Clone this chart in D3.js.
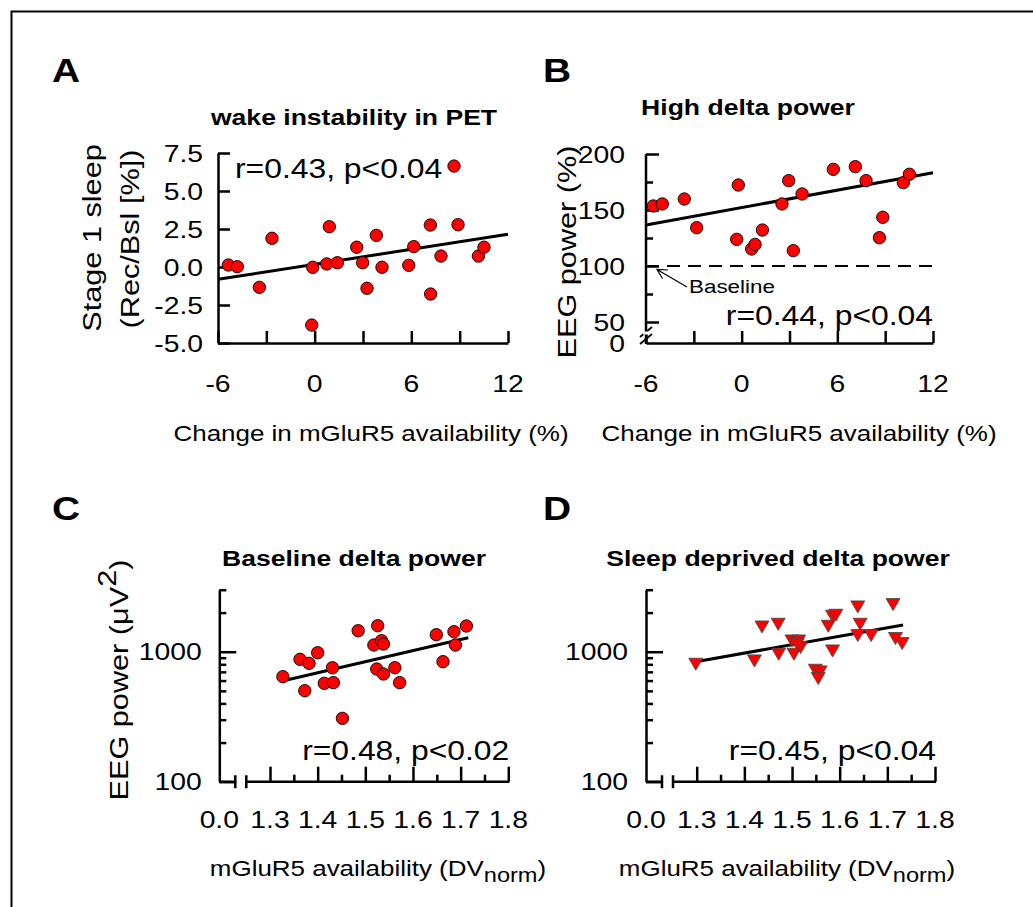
<!DOCTYPE html>
<html><head><meta charset="utf-8">
<script src="https://cdn.jsdelivr.net/npm/d3@7"></script>
<style>
body{margin:0;background:#fff}
svg{display:block}
text{font-family:"Liberation Sans",Arial,sans-serif;fill:#000}
</style>
</head><body>
<svg id="c" width="1033" height="907"></svg>
<script>
// ---------- DATA ----------
// Panel A: wake instability in PET
const aX = [-5.36,-4.80,-3.43,-2.65,-0.18,-0.12,0.75,0.91,1.41,2.61,2.98,3.25,3.83,4.18,5.84,6.15,7.18,7.20,7.84,8.65,8.90,10.16,10.51];
const aY = [0.13,0.02,-1.34,1.89,-3.82,-0.02,0.20,2.65,0.28,1.30,0.28,-1.40,2.08,-0.02,0.11,1.34,2.76,-1.78,0.72,6.64,2.78,0.72,1.30];
const aFitX = [-6, 12];
const aFitY = [-0.81, 2.15];
// Panel B: high delta power
const bX = [-5.54,-4.98,-3.60,-2.82,-0.21,-0.31,0.63,0.84,1.30,2.53,2.95,3.24,3.79,5.75,7.13,7.80,8.85,8.64,10.14,10.52];
const bY = [153.6,155.4,159.8,134.2,172.3,123.8,115.2,119.3,132.1,155.4,176.2,113.7,164.3,186.3,188.7,176.2,143.5,125.3,174.4,181.9];
const bFitX = [-6, 12];
const bFitY = [136.6, 183.3];
// Panel C: baseline delta power
const cX = [1.327,1.363,1.382,1.373,1.400,1.414,1.433,1.431,1.452,1.485,1.526,1.518,1.534,1.538,1.524,1.538,1.562,1.572,1.649,1.663,1.686,1.689,1.712];
const cY = [642,874,814,501,982,571,578,753,307,1450,1585,1126,1215,1146,736,674,753,578,1352,838,1425,1126,1577];
const cFitX = [1.335, 1.716];
const cFitY = [606, 1281];
// Panel D: sleep deprived delta power
const dX = [1.298,1.421,1.437,1.471,1.472,1.504,1.500,1.514,1.518,1.511,1.549,1.559,1.555,1.585,1.576,1.585,1.592,1.638,1.643,1.638,1.666,1.712,1.717,1.731];
const dY = [804,853,1556,1633,960,960,1215,1215,1080,1146,723,702,624,1018,1577,1882,1915,2220,1633,1337,1337,2315,1268,1160];
const dFitX = [1.298, 1.733];
const dFitY = [838, 1604];

// Ticks
const abXTicks = [-6,-3,0,3,6,9,12];
const abXLabels = [-6,0,6,12];
const aYTicks = [-5,-2.5,0,2.5,5,7.5];
const bYMajor = [50,100,150,200];
const bYMinor = [75,125,175];
const cdYMajor = [100,1000];
const cdYMinor = [200,300,400,500,600,700,800,900,2000,3000];
const cdXMajor = [1.3,1.4,1.5,1.6,1.7,1.8];
const cdXMinor = [1.35,1.45,1.55,1.65,1.75];

// Text
const titles = ["wake instability in PET","High delta power","Baseline delta power","Sleep deprived delta power"];
const letters = ["A","B","C","D"];
const stats = ["r=0.43, p<0.04","r=0.44, p<0.04","r=0.48, p<0.02","r=0.45, p<0.04"];

// ---------- DRAW ----------
const SX = 1.18;
const svg = d3.select("#c");
svg.append("path").attr("d","M11.5,907V11.5H1033").attr("fill","none").attr("stroke","#000").attr("stroke-width",2);

function txt(g, x, y, s, o) {
  o = o || {};
  const t = g.append("text")
    .attr("transform", `translate(${x},${y}) rotate(${o.rot||0}) scale(${o.sx||SX},1)`)
    .attr("text-anchor", o.anchor || "start")
    .style("font-size", (o.size||24) + "px")
    .style("font-weight", o.bold ? "bold" : "normal");
  if (s !== null) t.text(s);
  return t;
}
function styleAxis(sel) {
  sel.selectAll("path,line").attr("stroke","#000").attr("stroke-width",2.5);
  sel.selectAll("text").remove();
}
function marker(g, xs, ys, xS, yS, type) {
  const pts = xs.map((x,i)=>[xS(x), yS(ys[i])]);
  if (type === "circle") {
    g.selectAll(null).data(pts).enter().append("circle")
      .attr("cx",d=>d[0]).attr("cy",d=>d[1]).attr("r",6.2)
      .attr("fill","#ff0000").attr("stroke","#000").attr("stroke-width",0.9);
  } else {
    const tri = "M-7,-5.8L7,-5.8L0,6.2Z";
    g.selectAll(null).data(pts).enter().append("path")
      .attr("d",tri).attr("transform",d=>`translate(${d[0]},${d[1]})`)
      .attr("fill","#ff0000").attr("stroke","#444").attr("stroke-width",0.8);
  }
}
function fitLine(g, fx, fy, xS, yS) {
  g.append("path").datum(fx.map((x,i)=>[x, fy[i]]))
    .attr("d", d3.line().x(d=>xS(d[0])).y(d=>yS(d[1])))
    .attr("stroke","#000").attr("stroke-width",3).attr("fill","none");
}

// ===== Panel A =====
{
  const g = svg.append("g");
  const x = d3.scaleLinear().domain([-6,12]).range([218,508]);
  const y = d3.scaleLinear().domain([-5,7.5]).range([343,153]);
  g.append("g").attr("transform","translate(0,343)")
    .call(d3.axisBottom(x).tickValues(abXTicks).tickSizeInner(-12).tickSizeOuter(0)).call(styleAxis);
  g.append("g").attr("transform","translate(218,0)")
    .call(d3.axisLeft(y).tickValues(aYTicks).tickSizeInner(-12).tickSizeOuter(0)).call(styleAxis);
  aYTicks.forEach(v => txt(g, 203, y(v)+8.6, v.toFixed(1), {anchor:"end", size:24}));
  abXLabels.forEach(v => txt(g, x(v), 392, String(v), {anchor:"middle", size:24}));
  fitLine(g, aFitX, aFitY, x, y);
  marker(g, aX, aY, x, y, "circle");
  txt(g, 235, 178, stats[0], {size:27});
  txt(g, 52, 82, letters[0], {size:33, bold:true});
  txt(g, 354, 125, titles[0], {anchor:"middle", size:22.5, bold:true});
  txt(g, 371, 441, "Change in mGluR5 availability (%)", {anchor:"middle", size:22});
  txt(g, 101, 238, "Stage 1 sleep", {anchor:"middle", size:26, rot:-90});
  txt(g, 139, 239, "(Rec/Bsl [%])", {anchor:"middle", size:26, rot:-90});
}

// ===== Panel B =====
{
  const g = svg.append("g");
  const x = d3.scaleLinear().domain([-6,12]).range([646,933]);
  const y = d3.scaleLinear().domain([50,200]).range([322,154]);
  g.append("g").attr("transform","translate(0,343)")
    .call(d3.axisBottom(x).tickValues(abXTicks).tickSizeInner(-12).tickSizeOuter(0)).call(styleAxis);
  const ya = g.append("g").attr("transform","translate(646,0)")
    .call(d3.axisLeft(y).tickValues(bYMajor).tickSizeInner(-13).tickSizeOuter(0)).call(styleAxis);
  ya.select(".domain").remove();
  g.append("g").attr("transform","translate(646,0)")
    .call(d3.axisLeft(y).tickValues(bYMinor).tickSizeInner(-7).tickSizeOuter(0)).call(styleAxis)
    .select(".domain").remove();
  g.append("line").attr("x1",646).attr("x2",646).attr("y1",344).attr("y2",y(200))
    .attr("stroke","#000").attr("stroke-width",2.5);
  // axis break marks
  [0,7].forEach(o => g.append("line").attr("x1",640).attr("x2",652).attr("y1",337+o).attr("y2",327+o)
    .attr("stroke","#000").attr("stroke-width",1.8));
  g.append("rect").attr("x",643).attr("y",331.5).attr("width",6).attr("height",3).attr("fill","#fff");
  bYMajor.forEach(v => txt(g, 625, y(v)+8.6, String(v), {anchor:"end", size:24}));
  txt(g, 625, 343+8.6, "0", {anchor:"end", size:24});
  abXLabels.forEach(v => txt(g, x(v), 392, String(v), {anchor:"middle", size:24}));
  // baseline
  g.append("line").attr("x1",x(-6)).attr("x2",x(12)).attr("y1",y(100)).attr("y2",y(100))
    .attr("stroke","#000").attr("stroke-width",2).attr("stroke-dasharray","13,8");
  g.append("path").attr("d","M687,287L657,269.5M668,270L657,269.5L662.5,278.5")
    .attr("stroke","#000").attr("stroke-width",1.2).attr("fill","none");
  txt(g, 689, 293, "Baseline", {size:19});
  fitLine(g, bFitX, bFitY, x, y);
  marker(g, bX, bY, x, y, "circle");
  txt(g, 933, 325, stats[1], {anchor:"end", size:27});
  txt(g, 543, 82, letters[1], {size:33, bold:true});
  txt(g, 748, 115, titles[1], {anchor:"middle", size:22.5, bold:true});
  txt(g, 799, 441, "Change in mGluR5 availability (%)", {anchor:"middle", size:22});
  txt(g, 576, 252, "EEG power (%)", {anchor:"middle", size:26, rot:-90});
}

// ===== Panels C, D =====
function logPanel(idx, x0, xs, ys, fx, fy, type, yLabX, titleX, xTitleX) {
  const g = svg.append("g");
  const x1 = x0 + 289;
  const x = d3.scaleLinear().domain([1.3,1.8]).range([x0+50.7, x1]);
  const y = d3.scaleLog().domain([100,3000]).range([781.7,589.7]);
  const yb = 781.7;
  g.append("g").attr("transform",`translate(0,${yb})`)
    .call(d3.axisBottom(x).tickValues(cdXMajor).tickSizeInner(-15).tickSizeOuter(0)).call(styleAxis)
    .select(".domain").remove();
  g.append("g").attr("transform",`translate(0,${yb})`)
    .call(d3.axisBottom(x).tickValues(cdXMinor).tickSizeInner(-7).tickSizeOuter(0)).call(styleAxis)
    .select(".domain").remove();
  g.append("path").attr("d",`M${x0},${yb}H${x0+16}M${x0+16},${yb-6.5}V${yb+6.5}M${x0+27},${yb-6.5}V${yb+6.5}M${x0+27},${yb}H${x1+1}`)
    .attr("stroke","#000").attr("stroke-width",2.5).attr("fill","none");
  g.append("g").attr("transform",`translate(${x0},0)`)
    .call(d3.axisLeft(y).tickValues(cdYMajor).tickSizeInner(-17).tickSizeOuter(0)).call(styleAxis);
  g.append("g").attr("transform",`translate(${x0},0)`)
    .call(d3.axisLeft(y).tickValues(cdYMinor).tickSizeInner(-7).tickSizeOuter(0)).call(styleAxis)
    .select(".domain").remove();
  cdYMajor.forEach(v => txt(g, yLabX, y(v)+8.6, String(v), {anchor:"end", size:24}));
  txt(g, x0, 828, "0.0", {anchor:"middle", size:24});
  cdXMajor.forEach(v => txt(g, x(v), 828, v.toFixed(1), {anchor:"middle", size:24}));
  fitLine(g, fx, fy, x, y);
  marker(g, xs, ys, x, y, type);
  txt(g, x1+1, 760, stats[idx], {anchor:"end", size:27});
  txt(g, idx===2?52:543, 520, letters[idx], {size:33, bold:true});
  txt(g, titleX, 566, titles[idx], {anchor:"middle", size:22.5, bold:true});
  const t = txt(g, xTitleX, 876, null, {anchor:"middle", size:22});
  t.append("tspan").text("mGluR5 availability (DV");
  t.append("tspan").attr("dy",6).style("font-size","20px").text("norm");
  t.append("tspan").attr("dy",-6).text(")");
  return g;
}
const gC = logPanel(2, 219.3, cX, cY, cFitX, cFitY, "circle", 201.7, 354, 378);
logPanel(3, 646, dX, dY, dFitX, dFitY, "tri", 628, 778, 787);
{
  const t = txt(gC, 128, 680, null, {anchor:"middle", size:26, rot:-90});
  t.append("tspan").text("EEG power (\u03bcV");
  t.append("tspan").attr("dy",-12).text("2");
  t.append("tspan").attr("dy",12).text(")");
}
</script>
</body></html>
